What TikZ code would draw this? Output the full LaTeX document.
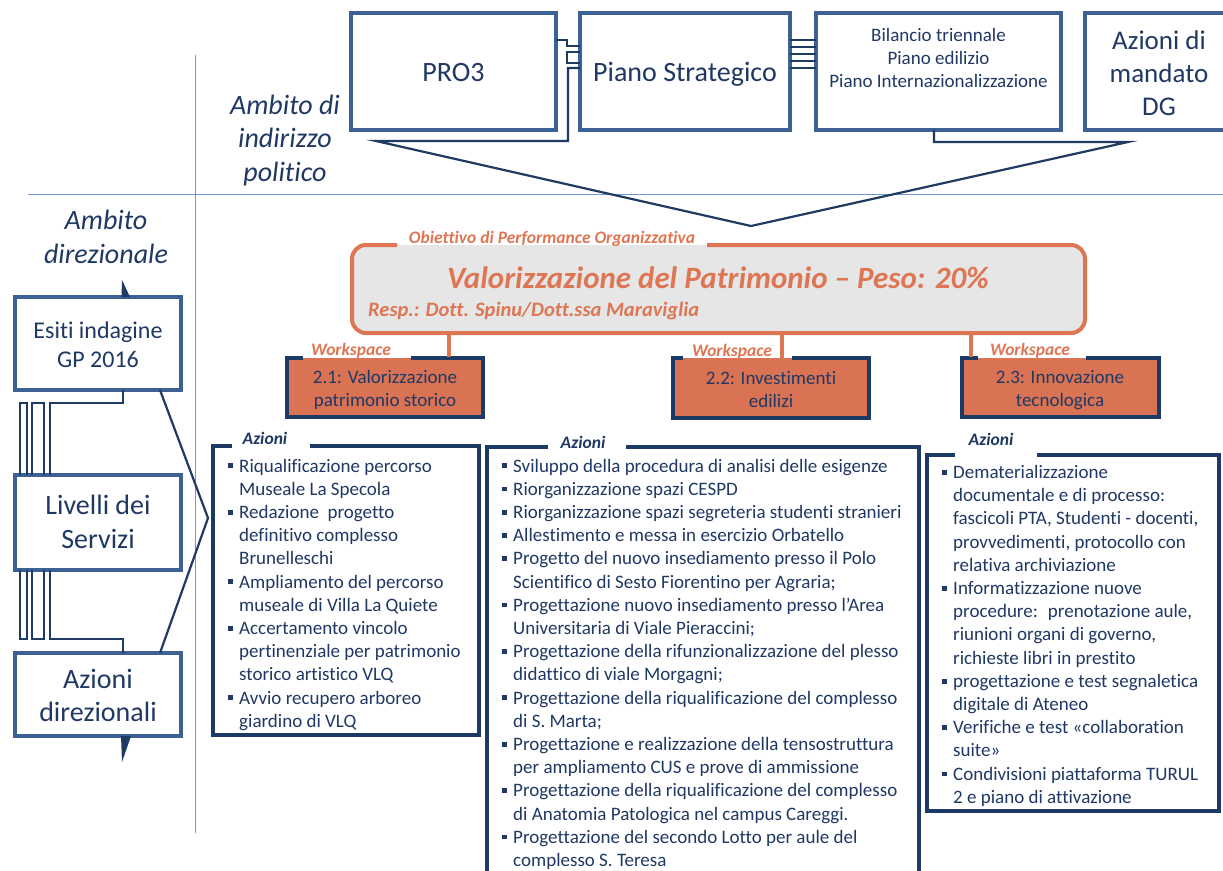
\documentclass[tikz,border=0pt]{standalone}
\usepackage{fontspec}
\setmainfont{Carlito}[Ligatures=NoCommon]
\definecolor{txtnavy}{HTML}{1F3864}
\definecolor{boxblue}{HTML}{3D6194}
\definecolor{linenavy}{HTML}{1F3B63}
\definecolor{actnavy}{HTML}{1C3A66}
\definecolor{orng}{HTML}{DE7553}
\definecolor{wsfill}{HTML}{D97354}
\definecolor{objfill}{HTML}{E6E6E6}
\definecolor{thinblue}{HTML}{6F98D4}
\newcommand{\fsz}[2]{\fontsize{#1}{#2}\selectfont}
\newcommand{\ctr}[2]{\parbox[t]{#1}{\centering #2}}
\newcommand{\bitem}[1]{\par\noindent\hangindent=11pt\hangafter=1\makebox[11pt][l]{\raisebox{0.2em}{\rule{0.25em}{0.25em}}}#1}
\newcommand{\blist}[2]{\parbox[t]{#1}{\raggedright #2}}
\begin{document}
\begin{tikzpicture}[x=1pt,y=-1pt,
  box/.style={draw=boxblue, line width=3.2pt, fill=white, inner sep=0pt, outer sep=0pt, anchor=north west},
  txt/.style={inner sep=0pt, text=txtnavy, anchor=base},
  conn/.style={draw=linenavy, line width=2.2pt},
  thinline/.style={draw=thinblue, line width=1pt},
  olbl/.style={inner sep=0pt, anchor=base, text=orng, font=\fsz{17.5}{20}\bfseries\itshape},
  albl/.style={inner sep=0pt, anchor=base, text=txtnavy, font=\fsz{17.5}{20}\bfseries\itshape},
  actbox/.style={draw=actnavy, line width=4pt},
  wsbox/.style={draw=actnavy, line width=3.5pt},
]
\clip (0,0) rectangle (1223,870);
\fill[white] (0,0) rectangle (1223,870);

% thin divider lines
\draw[thinline] (195,55) -- (195,833);
\draw[thinline] (28,194) -- (1223,194);

% ambito labels
\node[txt] (ambpol) at (285,114) {\fsz{28}{33.5}\itshape\ctr{160pt}{Ambito di\\indirizzo\\politico}};
\node[txt] (ambdir) at (106,229) {\fsz{28}{34}\itshape\ctr{170pt}{Ambito\\direzionale}};

% top boxes
\node[box, minimum width=205, minimum height=117] (pro3) at (351,13) {};
\node[box, minimum width=210, minimum height=117] (pst) at (580,13) {};
\node[box, minimum width=245, minimum height=117] (bil) at (816,13) {};
\node[box, minimum width=160, minimum height=117] (adg) at (1085,13) {};
\node[txt] (pro3t) at (453.5,81) {\fsz{28}{32}PRO3};
\node[txt] (pstt) at (685,81) {\fsz{28}{32}Piano Strategico};
\node[txt] (bilt) at (938.5,41) {\fsz{19}{23}\ctr{240pt}{Bilancio triennale\\Piano edilizio\\Piano Internazionalizzazione}};
\node[txt] (adgt) at (1159,49) {\fsz{27}{33}\ctr{140pt}{Azioni di\\mandato\\DG}};

% connectors between top boxes
\draw[conn, line width=2pt] (pro3.east |- 0,40) -- (567,40) -- (567,46) -- (pst.west |- 0,46);
\draw[conn, line width=2pt] (pst.west |- 0,52) -- (567,52) -- (567,63) -- (pst.west |- 0,63);
\foreach \yy in {40,47,54,61,68} \draw[conn, line width=2pt] (pst.east |- 0,\yy) -- (bil.west |- 0,\yy);
\coordinate (apex) at (751,226);
\draw[conn, line join=miter] (pst.west |- 0,68) -- (568,68) -- (568,141) -- (376,141) -- (apex) -- (1128,142) -- (934,142) -- (bil.south -| 934,0);

% left boxes
\node[box, minimum width=166, minimum height=93] (esiti) at (15,297) {};
\node[box, minimum width=166, minimum height=95] (liv) at (15,475) {};
\node[box, minimum width=166, minimum height=83] (azd) at (15,653) {};
\node[txt] (esitit) at (98,338) {\fsz{24}{29}\ctr{160pt}{Esiti indagine\\GP 2016}};
\node[txt] (livt) at (98,514) {\fsz{28}{34}\ctr{160pt}{Livelli dei\\Servizi}};
\node[txt] (azdt) at (98,688) {\fsz{28}{33}\ctr{160pt}{Azioni\\direzionali}};

% small spikes
\fill[linenavy] (122,280) -- (121.5,297) -- (130,297) -- cycle;
\fill[linenavy] (121,736) -- (122,762) -- (131,736) -- cycle;

% left connectors
\draw[conn] (20,475) -- (20,403) -- (27,403) -- (27,475);
\draw[conn] (32,475) -- (32,403) -- (44,403) -- (44,475);
\draw[conn] (50,475) -- (50,403) -- (123,403) -- (123,390);
\draw[conn] (20,570) -- (20,639) -- (27,639) -- (27,570);
\draw[conn] (32,570) -- (32,639) -- (44,639) -- (44,570);
\draw[conn] (50,570) -- (50,639) -- (123,639) -- (123,653);
\coordinate (lapex) at (208,518);
\draw[conn, line join=miter] (160,390) -- (lapex) -- (160,653);

% objective box
\fill[objfill, rounded corners=14pt] (352,245) rectangle (1085,333);
\draw[orng, line width=4pt, rounded corners=14pt] (707,245) -- (1085,245) -- (1085,333) -- (352,333) -- (352,245) -- (397,245);
\node[olbl] (objl) at (552,243) {Obiettivo di Performance Organizzativa};
\node[inner sep=0pt, anchor=base, text=orng] (objt) at (718,288) {\fsz{31}{36}\bfseries\itshape Valorizzazione del Patrimonio -- Peso: 20\%};
\node[inner sep=0pt, anchor=base west, text=orng] (objr) at (368,316) {\fsz{20.5}{24}\bfseries\itshape Resp.: Dott. Spinu/Dott.ssa Maraviglia};

% workspace boxes
\fill[wsfill] (287,358) rectangle (483,417);
\draw[wsbox] (303,358) -- (287,358) -- (287,417) -- (483,417) -- (483,358) -- (411,358);
\fill[wsfill] (673,358) rectangle (869,418);
\draw[wsbox] (683,358) -- (673,358) -- (673,418) -- (869,418) -- (869,358) -- (792,358);
\fill[wsfill] (962,358) rectangle (1159,417);
\draw[wsbox] (978,358) -- (962,358) -- (962,417) -- (1159,417) -- (1159,358) -- (1086,358);
\draw[orng, line width=4pt] (449,333) -- (449,356.5);
\draw[orng, line width=4pt] (782,333) -- (782,358);
\draw[orng, line width=4pt] (971,333) -- (971,356.5);
\node[olbl] (ws1l) at (351,355) {Workspace};
\node[olbl] (ws2l) at (732,356) {Workspace};
\node[olbl] (ws3l) at (1030,355) {Workspace};
\node[txt] (ws1t) at (385,383) {\fsz{19}{23}\ctr{190pt}{2.1: Valorizzazione\\patrimonio storico}};
\node[txt] (ws2t) at (771,384) {\fsz{19}{23}\ctr{190pt}{2.2: Investimenti\\edilizi}};
\node[txt] (ws3t) at (1060,383) {\fsz{19}{23}\ctr{190pt}{2.3: Innovazione\\tecnologica}};

% action boxes
\draw[actbox] (310,446) -- (479,446) -- (479,735) -- (213,735) -- (213,446) -- (232,446);
\draw[actbox] (626,447) -- (919,447) -- (919,880) (487,880) -- (487,447) -- (548,447);
\draw[actbox] (1037,455) -- (1219,455) -- (1219,811) -- (927,811) -- (927,455) -- (955,455);
\node[albl] (a1l) at (265,444) {Azioni};
\node[albl] (a2l) at (583,448) {Azioni};
\node[albl] (a3l) at (991,445) {Azioni};

\node[inner sep=0pt, anchor=base west, text=txtnavy] (a1t) at (228,472) {\fsz{19}{23.2}\blist{275pt}{%
\bitem{Riqualificazione percorso\newline Museale La Specola}
\bitem{Redazione~ progetto\newline definitivo complesso\newline Brunelleschi}
\bitem{Ampliamento del percorso\newline museale di Villa La Quiete}
\bitem{Accertamento vincolo\newline pertinenziale per patrimonio\newline storico artistico VLQ}
\bitem{Avvio recupero arboreo\newline giardino di VLQ}}};

\node[inner sep=0pt, anchor=base west, text=txtnavy] (a2t) at (502,472) {\fsz{19}{23.2}\blist{470pt}{%
\bitem{Sviluppo della procedura di analisi delle esigenze}
\bitem{Riorganizzazione spazi CESPD}
\bitem{Riorganizzazione spazi segreteria studenti stranieri}
\bitem{Allestimento e messa in esercizio Orbatello}
\bitem{Progetto del nuovo insediamento presso il Polo\newline Scientifico di Sesto Fiorentino per Agraria;}
\bitem{Progettazione nuovo insediamento presso l’Area\newline Universitaria di Viale Pieraccini;}
\bitem{Progettazione della rifunzionalizzazione del plesso\newline didattico di viale Morgagni;}
\bitem{Progettazione della riqualificazione del complesso\newline di S. Marta;}
\bitem{Progettazione e realizzazione della tensostruttura\newline per ampliamento CUS e prove di ammissione}
\bitem{Progettazione della riqualificazione del complesso\newline di Anatomia Patologica nel campus Careggi.}
\bitem{Progettazione del secondo Lotto per aule del\newline complesso S. Teresa}}};

\node[inner sep=0pt, anchor=base west, text=txtnavy] (a3t) at (942,478.5) {\fsz{19}{23.2}\blist{300pt}{%
\bitem{Dematerializzazione\newline documentale e di processo:\newline fascicoli PTA, Studenti - docenti,\newline provvedimenti, protocollo con\newline relativa archiviazione}
\bitem{Informatizzazione nuove\newline procedure:~ prenotazione aule,\newline riunioni organi di governo,\newline richieste libri in prestito}
\bitem{progettazione e test segnaletica\newline digitale di Ateneo}
\bitem{Verifiche e test «collaboration\newline suite»}
\bitem{Condivisioni piattaforma TURUL\newline 2 e piano di attivazione}}};
\end{tikzpicture}
\end{document}
